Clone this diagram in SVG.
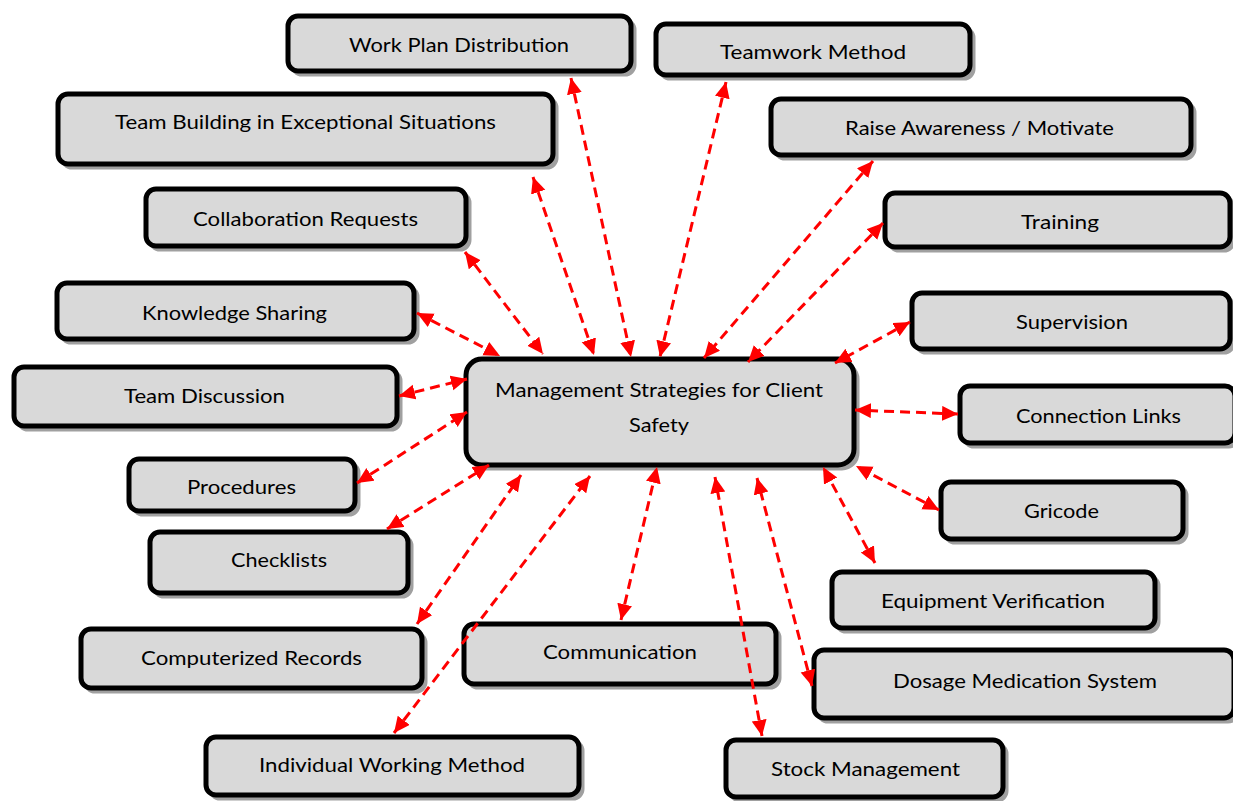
<svg xmlns="http://www.w3.org/2000/svg" width="1233" height="801" viewBox="0 0 1233 801">
<style>
.sh{fill:#a0a0a0;stroke:#a0a0a0;stroke-width:3}
.bx{fill:#d9d9d9;stroke:#000;stroke-width:5}
.t{font-family:Lato,"Open Sans","Liberation Sans",sans-serif;font-size:20px;fill:#000;text-anchor:middle}
.c{stroke:#ff0000;stroke-width:3;stroke-dasharray:10 6;fill:none;marker-start:url(#ah);marker-end:url(#ah)}
</style>
<defs>
<marker id="ah" markerUnits="userSpaceOnUse" markerWidth="18" markerHeight="16" refX="16" refY="7.5" orient="auto-start-reverse">
<path d="M0,0 L16,7.5 L0,15 z" fill="#ff0000"/>
</marker>
</defs>
<rect width="1233" height="801" fill="#fff"/>
<g id="nodes">
<g id="n-wpd"><rect class="sh" x="292" y="20" width="343" height="55" rx="10"/><rect class="bx" x="288" y="16" width="343" height="55" rx="10"/><text class="t" x="459" y="52" textLength="220" lengthAdjust="spacingAndGlyphs">Work Plan Distribution</text></g>
<g id="n-teamwork"><rect class="sh" x="660" y="28" width="314" height="51" rx="10"/><rect class="bx" x="656" y="24" width="314" height="51" rx="10"/><text class="t" x="813" y="59" textLength="186" lengthAdjust="spacingAndGlyphs">Teamwork Method</text></g>
<g id="n-teambuilding"><rect class="sh" x="62" y="98" width="495" height="70" rx="10"/><rect class="bx" x="58" y="94" width="495" height="70" rx="10"/><text class="t" x="305.5" y="129" textLength="381" lengthAdjust="spacingAndGlyphs">Team Building in Exceptional Situations</text></g>
<g id="n-raise"><rect class="sh" x="775" y="103" width="420" height="56" rx="10"/><rect class="bx" x="771" y="99" width="420" height="56" rx="10"/><text class="t" x="979.5" y="135" textLength="269" lengthAdjust="spacingAndGlyphs">Raise Awareness / Motivate</text></g>
<g id="n-collab"><rect class="sh" x="150" y="193" width="320" height="57" rx="10"/><rect class="bx" x="146" y="189" width="320" height="57" rx="10"/><text class="t" x="305.5" y="226" textLength="225" lengthAdjust="spacingAndGlyphs">Collaboration Requests</text></g>
<g id="n-training"><rect class="sh" x="889" y="197" width="345" height="54" rx="10"/><rect class="bx" x="885" y="193" width="345" height="54" rx="10"/><text class="t" x="1060" y="229" textLength="78" lengthAdjust="spacingAndGlyphs">Training</text></g>
<g id="n-knowledge"><rect class="sh" x="61" y="287" width="357" height="56" rx="10"/><rect class="bx" x="57" y="283" width="357" height="56" rx="10"/><text class="t" x="234.5" y="320" textLength="185" lengthAdjust="spacingAndGlyphs">Knowledge Sharing</text></g>
<g id="n-supervision"><rect class="sh" x="916" y="297" width="318" height="56" rx="10"/><rect class="bx" x="912" y="293" width="318" height="56" rx="10"/><text class="t" x="1072" y="329" textLength="112" lengthAdjust="spacingAndGlyphs">Supervision</text></g>
<g id="n-central"><rect class="sh" x="470" y="363" width="388" height="106" rx="16"/><rect class="bx" x="466" y="359" width="388" height="106" rx="16"/><text class="t" x="659" y="397" textLength="328" lengthAdjust="spacingAndGlyphs">Management Strategies for Client</text><text class="t" x="659" y="432" textLength="60" lengthAdjust="spacingAndGlyphs">Safety</text></g>
<g id="n-teamdisc"><rect class="sh" x="18" y="371" width="383" height="59" rx="10"/><rect class="bx" x="14" y="367" width="383" height="59" rx="10"/><text class="t" x="204.5" y="403" textLength="161" lengthAdjust="spacingAndGlyphs">Team Discussion</text></g>
<g id="n-connlinks"><rect class="sh" x="964" y="390" width="275" height="57" rx="10"/><rect class="bx" x="960" y="386" width="275" height="57" rx="10"/><text class="t" x="1098.5" y="423" textLength="165" lengthAdjust="spacingAndGlyphs">Connection Links</text></g>
<g id="n-procedures"><rect class="sh" x="133" y="463" width="226" height="52" rx="10"/><rect class="bx" x="129" y="459" width="226" height="52" rx="10"/><text class="t" x="241.5" y="494" textLength="109" lengthAdjust="spacingAndGlyphs">Procedures</text></g>
<g id="n-gricode"><rect class="sh" x="945" y="486" width="242" height="57" rx="10"/><rect class="bx" x="941" y="482" width="242" height="57" rx="10"/><text class="t" x="1061.5" y="518" textLength="75" lengthAdjust="spacingAndGlyphs">Gricode</text></g>
<g id="n-checklists"><rect class="sh" x="154" y="536" width="258" height="61" rx="10"/><rect class="bx" x="150" y="532" width="258" height="61" rx="10"/><text class="t" x="279" y="567" textLength="96" lengthAdjust="spacingAndGlyphs">Checklists</text></g>
<g id="n-equip"><rect class="sh" x="836" y="576" width="323" height="56" rx="10"/><rect class="bx" x="832" y="572" width="323" height="56" rx="10"/><text class="t" x="993" y="608" textLength="224" lengthAdjust="spacingAndGlyphs">Equipment Verification</text></g>
<g id="n-comprec"><rect class="sh" x="85" y="633" width="341" height="59" rx="10"/><rect class="bx" x="81" y="629" width="341" height="59" rx="10"/><text class="t" x="251.5" y="665" textLength="221" lengthAdjust="spacingAndGlyphs">Computerized Records</text></g>
<g id="n-communication"><rect class="sh" x="468" y="628" width="312" height="60" rx="10"/><rect class="bx" x="464" y="624" width="312" height="60" rx="10"/><text class="t" x="620" y="659" textLength="154" lengthAdjust="spacingAndGlyphs">Communication</text></g>
<g id="n-dosage"><rect class="sh" x="818" y="654" width="420" height="68" rx="10"/><rect class="bx" x="814" y="650" width="420" height="68" rx="10"/><text class="t" x="1025" y="688" textLength="264" lengthAdjust="spacingAndGlyphs">Dosage Medication System</text></g>
<g id="n-iwm"><rect class="sh" x="210" y="741" width="373" height="58" rx="10"/><rect class="bx" x="206" y="737" width="373" height="58" rx="10"/><text class="t" x="392" y="772" textLength="266" lengthAdjust="spacingAndGlyphs">Individual Working Method</text></g>
<g id="n-stock"><rect class="sh" x="730" y="744" width="277" height="57" rx="10"/><rect class="bx" x="726" y="740" width="277" height="57" rx="10"/><text class="t" x="865.5" y="776" textLength="189" lengthAdjust="spacingAndGlyphs">Stock Management</text></g>
</g>
<g id="connectors">
<line class="c" x1="417" y1="313" x2="500" y2="356"/>
<line class="c" x1="465" y1="252" x2="543" y2="354"/>
<line class="c" x1="533" y1="177" x2="594" y2="355"/>
<line class="c" x1="571" y1="78" x2="631" y2="357"/>
<line class="c" x1="726" y1="82" x2="660" y2="357"/>
<line class="c" x1="873" y1="161" x2="704" y2="358"/>
<line class="c" x1="883" y1="223" x2="748" y2="362"/>
<line class="c" x1="910" y1="322" x2="835" y2="363"/>
<line class="c" x1="958" y1="414" x2="855" y2="410"/>
<line class="c" x1="939" y1="510" x2="856" y2="466"/>
<line class="c" x1="875" y1="563" x2="823" y2="467"/>
<line class="c" x1="812" y1="686" x2="757" y2="478"/>
<line class="c" x1="762" y1="736" x2="715" y2="477"/>
<line class="c" x1="621" y1="620" x2="657" y2="467"/>
<line class="c" x1="394" y1="733" x2="590" y2="476"/>
<line class="c" x1="417" y1="624" x2="521" y2="475"/>
<line class="c" x1="387" y1="529" x2="489" y2="465"/>
<line class="c" x1="357" y1="483" x2="467" y2="412"/>
<line class="c" x1="399" y1="396" x2="467" y2="379"/>
</g>
</svg>
